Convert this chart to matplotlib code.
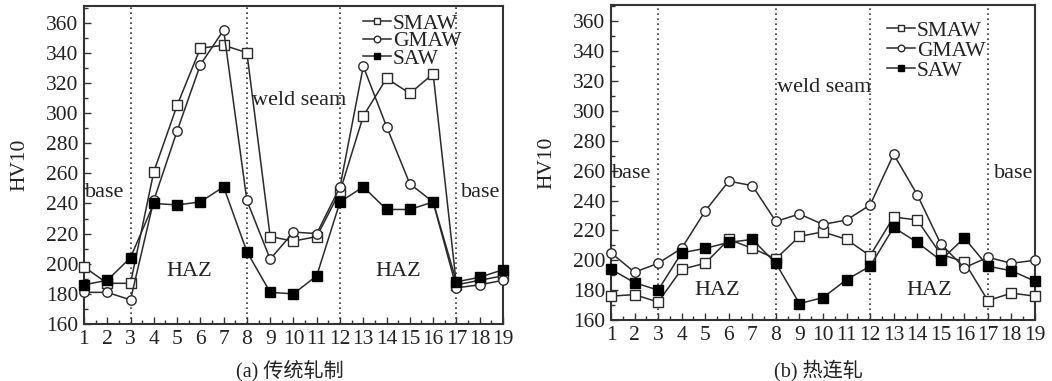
import matplotlib
matplotlib.use("Agg")
import matplotlib.pyplot as plt
from matplotlib.ticker import MultipleLocator

plt.rcParams['font.family'] = ['Liberation Serif', 'Noto Sans CJK SC']
plt.rcParams['mathtext.fontset'] = 'stix'

positions = list(range(1, 20))
xtick_labels = [str(i) for i in positions]

# (a) 传统轧制
a_smaw = [198, 187, 187, 261, 305, 343, 345, 340, 218, 215, 218, 248, 298, 323, 313, 326, 186, 189, 192]
a_gmaw = [181, 181, 176, 242, 288, 332, 355, 242, 203, 221, 220, 251, 331, 291, 253, 241, 184, 186, 189]
a_saw = [186, 189, 204, 240, 239, 241, 251, 208, 181, 180, 192, 241, 251, 236, 236, 241, 188, 191, 196]

# (b) 热连轧
b_smaw = [176, 177, 172, 194, 198, 214, 208, 201, 216, 219, 214, 203, 229, 227, 204, 199, 173, 178, 176]
b_gmaw = [205, 192, 198, 208, 233, 253, 250, 226, 231, 224, 227, 237, 271, 244, 211, 195, 202, 198, 200]
b_saw = [194, 185, 180, 205, 208, 212, 214, 198, 171, 175, 187, 196, 222, 212, 200, 215, 196, 193, 186]

boundaries = [3, 8, 12, 17]
series_names = ['SMAW', 'GMAW', 'SAW']

fig = plt.figure(figsize=(10.52, 3.81), dpi=100)
ax1 = fig.add_axes([0.0798, 0.1496, 0.3983, 0.8346])
ax2 = fig.add_axes([0.5808, 0.1601, 0.4030, 0.8268])

def style_axis(ax):
    ax.set_xlim(1, 19)
    ax.set_ylim(160, 371)
    ax.set_xticks(positions)
    ax.set_xticklabels(xtick_labels)
    ax.set_yticks(range(160, 361, 20))
    ax.xaxis.set_minor_locator(MultipleLocator(0.5))
    ax.yaxis.set_minor_locator(MultipleLocator(10))
    ax.tick_params(which='both', direction='in', top=False, right=False,
                   labelsize=15.5, pad=4, width=1, color='#333333', labelcolor='#222222')
    ax.tick_params(which='major', length=5)
    ax.tick_params(which='minor', length=3)
    for s in ax.spines.values():
        s.set_linewidth(1.5)
        s.set_color('#333333')
    for b in boundaries:
        ax.axvline(b, color='#333333', linestyle=(0, (1, 2)), linewidth=1.2, zorder=1)
    ax.set_ylabel('HV10', fontsize=15.5, labelpad=12, color='#222222')

def plot_series(ax, smaw, gmaw, saw, spacing):
    kw = dict(color='#2a2a2a', linewidth=1.1, markersize=6.8, markeredgewidth=1.0, clip_on=False)
    ax.plot(positions, smaw, marker='s', markerfacecolor='white', label=series_names[0], zorder=3, **kw)
    ax.plot(positions, gmaw, marker='o', markerfacecolor='white', label=series_names[1], zorder=3, **kw)
    ax.plot(positions, saw, marker='s', markerfacecolor='black', markeredgecolor='black', label=series_names[2], zorder=4, **kw)
    leg = ax.legend(loc='upper left', frameon=False, fontsize=15.5, handlelength=1.3,
                    handletextpad=0.1, labelspacing=spacing, borderpad=0, markerscale=0.7)
    for t in leg.get_texts():
        t.set_color('#222222')
    return leg

tkw = dict(fontsize=16, color='#222222', va='center')

style_axis(ax1)
plot_series(ax1, a_smaw, a_gmaw, a_saw, -0.12)
ax1.get_legend().set_bbox_to_anchor((0.64, 1.01))
ax1.text(1.05, 247, 'base', ha='left', **tkw)
ax1.text(5.5, 195, 'HAZ', ha='center', **tkw)
ax1.text(8.2, 308, 'weld seam', ha='left', **tkw)
ax1.text(14.5, 195, 'HAZ', ha='center', **tkw)
ax1.text(17.2, 247, 'base', ha='left', **tkw)

style_axis(ax2)
plot_series(ax2, b_smaw, b_gmaw, b_saw, 0.0)
ax2.get_legend().set_bbox_to_anchor((0.625, 0.985))
ax2.text(1.05, 258, 'base', ha='left', **tkw)
ax2.text(5.5, 180, 'HAZ', ha='center', **tkw)
ax2.text(8.05, 316, 'weld seam', ha='left', **tkw)
ax2.text(14.5, 180, 'HAZ', ha='center', **tkw)
ax2.text(17.25, 258, 'base', ha='left', **tkw)

fig.text(0.276, 0.028, '(a) 传统轧制', fontsize=14.5, ha='center', va='center', color='#222222')
fig.text(0.778, 0.028, '(b) 热连轧', fontsize=14.5, ha='center', va='center', color='#222222')

fig.savefig('out.png', dpi=100)
